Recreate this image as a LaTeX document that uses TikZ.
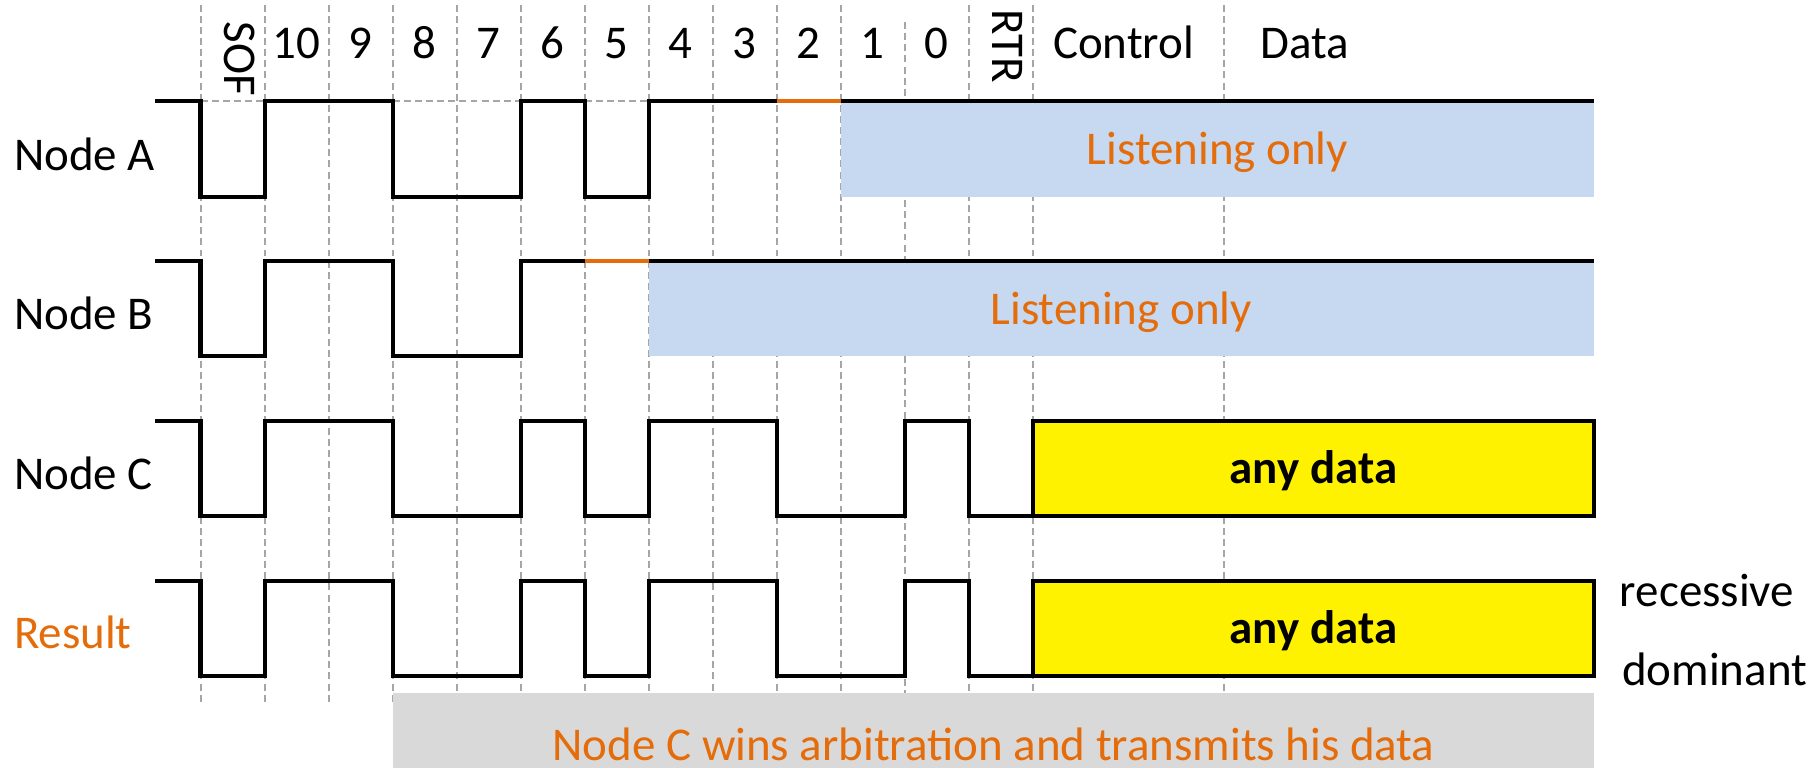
\documentclass[tikz,border=0pt]{standalone}
\usepackage{fontspec}
\setmainfont{Carlito}
\definecolor{orng}{HTML}{E46C0A}
\definecolor{lblue}{HTML}{C6D9F1}
\definecolor{lgray}{HTML}{D9D9D9}
\definecolor{gridc}{HTML}{A6A6A6}
\begin{document}
\begin{tikzpicture}[x=1pt,y=-1pt,
  font=\fontsize{40.5}{48}\selectfont,
  gridline/.style={gridc, dash pattern=on 6pt off 3.6pt, line width=1.6pt},
  wave/.style={line width=3.6pt, line join=miter},
  orangeseg/.style={orng, line width=3.6pt},
  lbl/.style={anchor=base west, inner sep=0pt},
  hdr/.style={anchor=base, inner sep=0pt},
  vhdr/.style={anchor=base west, inner sep=0pt, rotate=-90},
  listenbox/.style={fill=lblue, draw=none},
  databox/.style={fill=yellow, draw=black, line width=3.6pt},
  noteText/.style={text=orng, anchor=base, inner sep=0pt}]
\useasboundingbox (0,0) rectangle (1568,662);
% grid
\foreach \k in {0,...,10,12,13}{
  \draw[gridline] ({173+55.2*\k},4) -- ({173+55.2*\k},608);
}
\draw[gridline] ({173+55.2*11},19) -- ({173+55.2*11},608);
\draw[gridline] (1056,4) -- (1056,608);
% boxes
\fill[listenbox] (725,87) rectangle (1375,170);
\fill[listenbox] (559.4,225) rectangle (1375,307);
\fill[lgray] (338.6,597.5) rectangle (1375,662);
% header
\node[vhdr] (hSOF) at (194,18.7) {SOF};
\foreach \t [count=\i] in {10,9,8,7,6,5,4,3,2,1,0}{
  \node[hdr] (h\i) at ({173+55.2*\i+27.6},50.3) {\t};
}
\node[vhdr] (hRTR) at (856,8) {RTR};
\node[lbl] (hCtl) at (908,50.3) {Control};
\node[lbl] (hData) at (1087,50.3) {Data};
% row labels
\node[lbl] (lA) at (12,147.2) {Node A};
\node[lbl] (lB) at (12,284.6) {Node B};
\node[lbl] (lC) at (12,422) {Node C};
\node[lbl, text=orng] (lR) at (12,559.5) {Result};
% Node A
\draw[gridline] (173,87) -- (228.2,87);
\draw[gridline] (338.6,87) -- (449,87);
\draw[gridline] (504.2,87) -- (559.4,87);
\draw[wave] (134,87) -| (173,170) -| (228.2,87) -| (338.6,170) -| (449,87) -| (504.2,170) -| (559.4,87) -- (669.8,87);
\draw[orangeseg] (669.8,87) -- (725,87);
\draw[wave] (725,87) -- (1375,87);
\node[noteText] (tA) at (1050,141.5) {Listening only};
% Node B
\draw[wave] (134,225) -| (173,307) -| (228.2,225) -| (338.6,307) -| (449,225) -- (504.2,225);
\draw[orangeseg] (504.2,225) -- (559.4,225);
\draw[wave] (559.4,225) -- (1375,225);
\node[noteText] (tB) at (967,279.5) {Listening only};
% Node C
\draw[wave] (134,363) -| (173,445) -| (228.2,363) -| (338.6,445) -| (449,363) -| (504.2,445) -| (559.4,363) -| (669.8,445) -| (780.2,363) -| (835.4,445) -- (890.6,445);
\draw[databox] (890.6,363) rectangle (1375,445);
\node[anchor=base, inner sep=0pt, font=\fontsize{40.5}{48}\selectfont\bfseries] (tC) at (1132.8,417) {any data};
% Result
\draw[wave] (134,501) -| (173,583) -| (228.2,501) -| (338.6,583) -| (449,501) -| (504.2,583) -| (559.4,501) -| (669.8,583) -| (780.2,501) -| (835.4,583) -- (890.6,583);
\draw[databox] (890.6,501) rectangle (1375,583);
\node[anchor=base, inner sep=0pt, font=\fontsize{40.5}{48}\selectfont\bfseries] (tR) at (1132.8,555) {any data};
% right labels
\node[lbl] (rec) at (1397,523.3) {recessive};
\node[lbl] (dom) at (1399,590.8) {dominant};
% bottom note
\node[noteText] (note) at (857,655.5) {Node C wins arbitration and transmits his data};
\end{tikzpicture}
\end{document}
